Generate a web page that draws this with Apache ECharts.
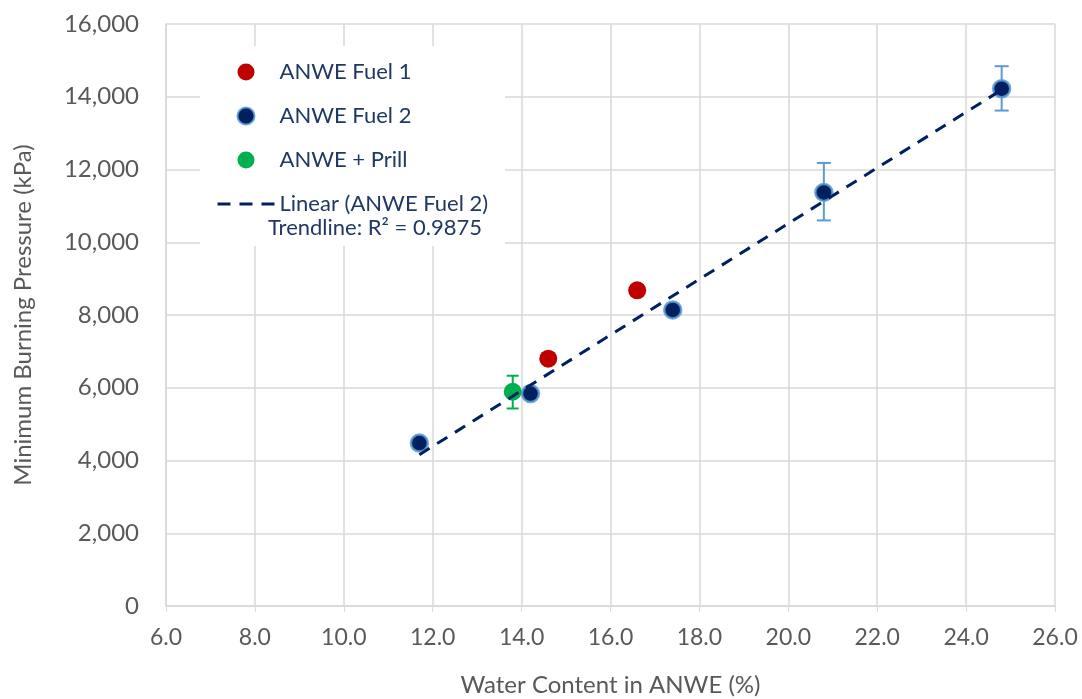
<!DOCTYPE html>
<html><head><meta charset="utf-8">
<script src="https://cdn.jsdelivr.net/npm/echarts@6/dist/echarts.min.js"></script>
<style>html,body{margin:0;padding:0;background:#fff}#c{width:1082px;height:699px}</style>
</head><body><div id="c"></div>
<script>
// ---- data ----
const fuel1X = [14.6, 16.6];
const fuel1Y = [6800, 8680];
const fuel2X = [11.7, 14.2, 17.4, 20.8, 24.8];
const fuel2Y = [4480, 5840, 8140, 11370, 14220];
const prillX = [13.8];
const prillY = [5890];
const fuel2ErrX = [20.8, 24.8];
const fuel2ErrLow = [10600, 13620];
const fuel2ErrHigh = [12180, 14840];
const prillErrX = [13.8];
const prillErrLow = [5430];
const prillErrHigh = [6330];
const trendX = [11.7, 24.8];
const trendY = [4160, 14190];
const seriesNames = ['ANWE Fuel 1', 'ANWE Fuel 2', 'ANWE + Prill', 'Linear (ANWE Fuel 2)'];
const trendNote = 'Trendline: R\u00B2 = 0.9875';
const xTitle = 'Water Content in ANWE (%)';
const yTitle = 'Minimum Burning Pressure (kPa)';

const FONT = 'Lato';
const pts = (xs, ys) => xs.map((x, i) => [x, ys[i]]);
const errData = (xs, lo, hi) => xs.map((x, i) => [x, lo[i], hi[i]]);

function errRender(color, cap) {
  return function (params, api) {
    const x = api.value(0);
    const p1 = api.coord([x, api.value(1)]);
    const p2 = api.coord([x, api.value(2)]);
    const st = { stroke: color, lineWidth: 2 };
    return {
      type: 'group',
      children: [
        { type: 'line', shape: { x1: p1[0], y1: p1[1], x2: p2[0], y2: p2[1] }, style: st },
        { type: 'line', shape: { x1: p1[0] - cap, y1: p1[1], x2: p1[0] + cap, y2: p1[1] }, style: st },
        { type: 'line', shape: { x1: p2[0] - cap, y1: p2[1], x2: p2[0] + cap, y2: p2[1] }, style: st }
      ]
    };
  };
}

const chart = echarts.init(document.getElementById('c'), null, { renderer: 'canvas' });
chart.setOption({
  backgroundColor: '#ffffff',
  animation: false,
  textStyle: { fontFamily: FONT },
  grid: { left: 166, right: 27, top: 24, bottom: 93, containLabel: false, outerBoundsMode: 'none' },
  xAxis: {
    type: 'value', min: 6, max: 26, interval: 2,
    name: xTitle, nameLocation: 'middle', nameGap: 67,
    nameTextStyle: { color: '#595959', fontSize: 24, fontFamily: FONT },
    axisLine: { show: true, lineStyle: { color: '#D9D9D9', width: 1.5 } },
    axisTick: { show: true, length: 6, lineStyle: { color: '#D9D9D9' } },
    axisLabel: { color: '#595959', fontSize: 23, margin: 20, formatter: v => v.toFixed(1) },
    splitLine: { show: true, lineStyle: { color: '#D9D9D9', width: 1.5 } }
  },
  yAxis: {
    type: 'value', min: 0, max: 16000, interval: 2000,
    name: yTitle, nameLocation: 'middle', nameGap: 131, nameRotate: 90,
    nameTextStyle: { color: '#595959', fontSize: 24, fontFamily: FONT },
    axisLine: { show: true, lineStyle: { color: '#D9D9D9', width: 1.5 } },
    axisTick: { show: false },
    axisLabel: { color: '#595959', fontSize: 24, margin: 27, formatter: v => v.toLocaleString('en-US') },
    splitLine: { show: true, lineStyle: { color: '#D9D9D9', width: 1.5 } }
  },
  legend: {
    orient: 'vertical', left: 211, top: 56, itemWidth: 57, itemHeight: 17, itemGap: 22,
    textStyle: { color: '#1F3864', fontSize: 22, fontFamily: FONT },
    data: [
      { name: seriesNames[0], icon: 'circle' },
      { name: seriesNames[1], icon: 'circle' },
      { name: seriesNames[2], icon: 'circle' },
      { name: seriesNames[3], itemStyle: { opacity: 0 }, lineStyle: { type: [13, 9], width: 3 } }
    ],
    z: 10
  },
  graphic: [
    { type: 'rect', left: 200, top: 46, shape: { width: 305, height: 200 }, style: { fill: '#ffffff' }, z: 5 },
    { type: 'text', left: 268, top: 217, style: { text: trendNote, fill: '#1F3864', font: '22px ' + FONT }, z: 11 }
  ],
  series: [
    {
      name: 'fuel2err', type: 'custom', renderItem: errRender('#5B9BD5', 7),
      data: errData(fuel2ErrX, fuel2ErrLow, fuel2ErrHigh), encode: { x: 0, y: [1, 2] }, z: 1, silent: true
    },
    {
      name: 'prillerr', type: 'custom', renderItem: errRender('#00B050', 6),
      data: errData(prillErrX, prillErrLow, prillErrHigh), encode: { x: 0, y: [1, 2] }, z: 1, silent: true
    },
    {
      name: seriesNames[0], type: 'scatter', symbolSize: 18, z: 2,
      itemStyle: { color: '#C00000', opacity: 1 },
      data: pts(fuel1X, fuel1Y)
    },
    {
      name: seriesNames[1], type: 'scatter', symbolSize: 17, z: 2,
      itemStyle: { color: '#002060', borderColor: 'rgba(91,155,213,0.85)', borderWidth: 2.5, opacity: 1 },
      data: pts(fuel2X, fuel2Y)
    },
    {
      name: seriesNames[2], type: 'scatter', symbolSize: 18, z: 2,
      itemStyle: { color: '#00B050', opacity: 1 },
      data: pts(prillX, prillY)
    },
    {
      name: seriesNames[3], type: 'line', symbol: 'none', z: 3,
      lineStyle: { color: '#002060', width: 3, type: [12, 9] },
      itemStyle: { color: '#002060' },
      data: pts(trendX, trendY)
    }
  ]
});
</script></body></html>
